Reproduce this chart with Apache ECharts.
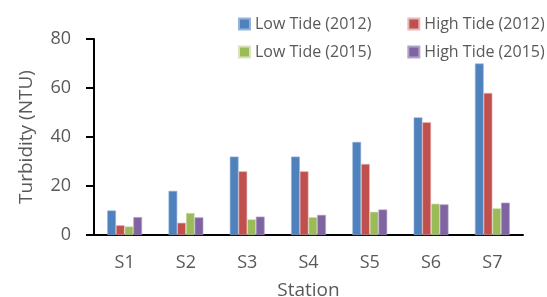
<!DOCTYPE html>
<html>
<head>
<meta charset="utf-8">
<script src="https://cdn.jsdelivr.net/npm/echarts@6/dist/echarts.min.js"></script>
<style>
  html, body { margin: 0; padding: 0; background: #fff; }
  #chart { width: 547px; height: 297px; }
</style>
</head>
<body>
<div id="chart"></div>
<script>
// data
var stations = ['S1', 'S2', 'S3', 'S4', 'S5', 'S6', 'S7'];
var lowTide2012 = [10, 18, 32, 32, 38, 48, 70];
var highTide2012 = [4, 5, 26, 26, 29, 46, 58];
var lowTide2015 = [3.5, 9, 6.4, 7.3, 9.5, 12.8, 10.9];
var highTide2015 = [7.3, 7.2, 7.5, 8.2, 10.4, 12.5, 13.2];

var seriesNames = ['Low Tide (2012)', 'High Tide (2012)', 'Low Tide (2015)', 'High Tide (2015)'];
var colors = ['#4F81BD', '#C0504D', '#9BBB59', '#8064A2'];
var lighter = ['#95B3D7', '#E6B9B8', '#D7E4BD', '#B3A2C7'];

var font = '"Open Sans", sans-serif';
var grey = '#595959';

var myChart = echarts.init(document.getElementById('chart'));

function legendBlock(names, top) {
    return {
        data: names,
        left: 238,
        top: top,
        width: 400,
        padding: 0,
        orient: 'horizontal',
        icon: 'rect',
        itemWidth: 11,
        itemHeight: 11,
        itemGap: 36,
        textStyle: { color: grey, fontSize: 16, fontFamily: font }
    };
}

function bar(i, values) {
    return {
        name: seriesNames[i],
        type: 'bar',
        data: values,
        barWidth: 8.7,
        barGap: '0%',
        itemStyle: { color: colors[i], borderColor: lighter[i], borderWidth: 0.6 }
    };
}

var option = {
    animation: false,
    color: colors,
    legend: [
        legendBlock([seriesNames[0], seriesNames[1]], 16),
        legendBlock([seriesNames[2], seriesNames[3]], 44)
    ],
    grid: { left: 94, right: 24, top: 39, bottom: 62, outerBoundsMode: 'none' },
    xAxis: {
        type: 'category',
        data: stations,
        name: 'Station',
        nameLocation: 'middle',
        nameGap: 46,
        nameTextStyle: { color: grey, fontSize: 19, fontFamily: font },
        axisLine: { lineStyle: { color: '#000', width: 2 } },
        axisTick: { show: false },
        axisLabel: { color: grey, fontSize: 18, fontFamily: font, margin: 19 }
    },
    yAxis: {
        type: 'value',
        min: 0,
        max: 80,
        interval: 20,
        name: 'Turbidity (NTU)',
        nameLocation: 'middle',
        nameGap: 58,
        nameTextStyle: { color: grey, fontSize: 19, fontFamily: font },
        axisLine: { show: true, lineStyle: { color: '#000', width: 2 } },
        axisTick: { show: true, length: 8, lineStyle: { color: '#000', width: 2 } },
        axisLabel: { color: grey, fontSize: 18, fontFamily: font, margin: 23 },
        splitLine: { show: false }
    },
    series: [
        bar(0, lowTide2012),
        bar(1, highTide2012),
        bar(2, lowTide2015),
        bar(3, highTide2015)
    ]
};

myChart.setOption(option);
</script>
</body>
</html>
